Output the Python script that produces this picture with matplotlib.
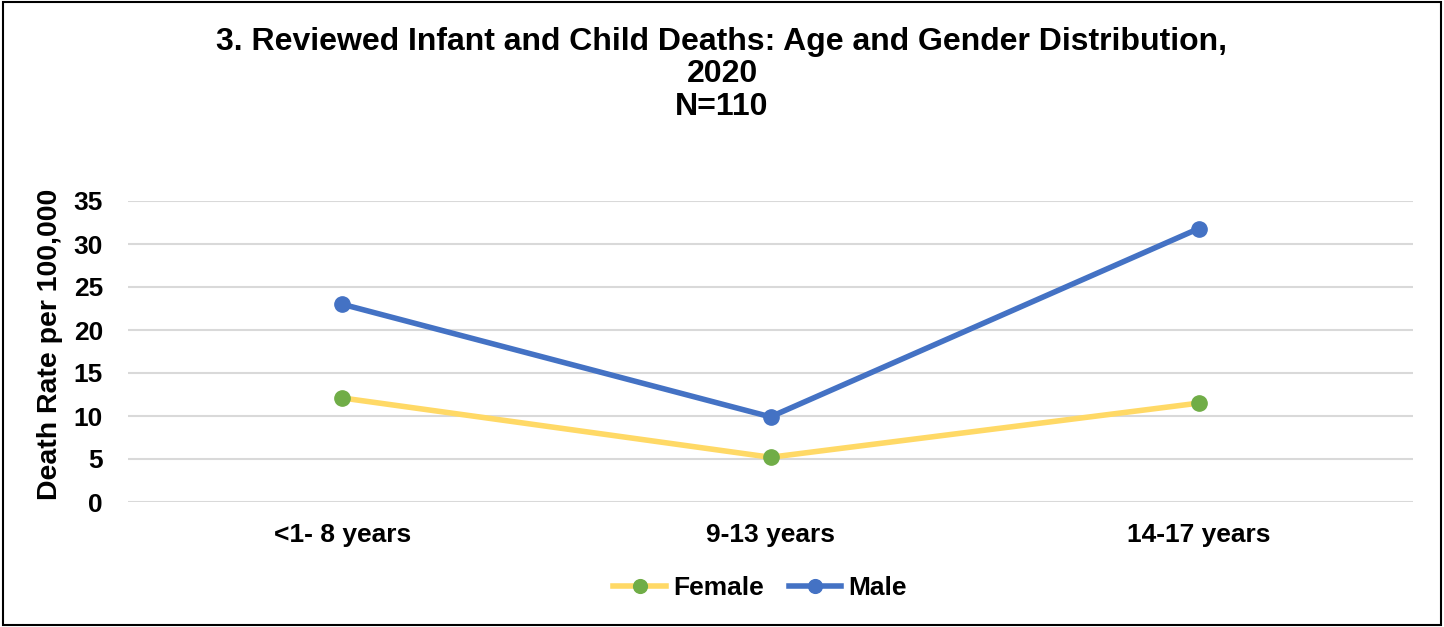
import matplotlib
matplotlib.use("Agg")
import matplotlib.pyplot as plt
from matplotlib.patches import Rectangle

categories = ["<1- 8 years", "9-13 years", "14-17 years"]
female = [12.1, 5.2, 11.5]
male = [23.0, 9.9, 31.8]
yticks = [0, 5, 10, 15, 20, 25, 30, 35]

plt.rcParams['font.family'] = ['Liberation Sans', 'DejaVu Sans']
plt.rcParams['font.weight'] = 'bold'

fig = plt.figure(figsize=(14.44, 6.27), dpi=100)
ax = fig.add_axes([128/1444, 1-502/627, (1413-128)/1444, (502-201)/627])

x = list(range(len(categories)))
ax.plot(x, female, color='#FFD966', lw=4, marker='o', ms=11,
        markerfacecolor='#70AD47', markeredgecolor='#70AD47', label='Female', clip_on=False, zorder=3)
ax.plot(x, male, color='#4472C4', lw=4, marker='o', ms=11,
        markerfacecolor='#4472C4', markeredgecolor='#4472C4', label='Male', clip_on=False, zorder=3)

ax.set_xlim(-0.5, 2.5)
ax.set_ylim(0, 35)
ax.set_yticks(yticks)
ax.set_xticks(x)
ax.set_xticklabels(categories, fontsize=19, fontweight='bold')
ax.tick_params(axis='y', labelsize=19, length=0, pad=18)
ax.tick_params(axis='x', length=0, pad=15)
for lab in ax.get_yticklabels():
    lab.set_fontweight('bold')
ax.grid(axis='y', color='#D9D9D9', lw=1.5)
ax.set_axisbelow(True)
for s in ax.spines.values():
    s.set_visible(False)
ax.set_ylabel("Death Rate per 100,000", fontsize=20.5, fontweight='bold', va='center')
ax.yaxis.set_label_coords((50 - 128) / 1285, (502 - 344) / 301)

fig.suptitle("3. Reviewed Infant and Child Deaths: Age and Gender Distribution,\n2020\nN=110",
             x=0.5, y=1-27/627, va='top', fontsize=23, fontweight='bold', linespacing=1.1)

leg = fig.legend(loc='center', bbox_to_anchor=(760/1444, 1-588/627), ncol=2, frameon=False,
                 fontsize=19, handlelength=2.0, columnspacing=0.95, handletextpad=0.25,
                 markerscale=0.9)
for t in leg.get_texts():
    t.set_fontweight('bold')

fig.patches.append(Rectangle((0.002, 0.003), 0.996, 0.994, transform=fig.transFigure,
                             fill=False, edgecolor='black', lw=1.5))

fig.savefig("out.png", dpi=100)
